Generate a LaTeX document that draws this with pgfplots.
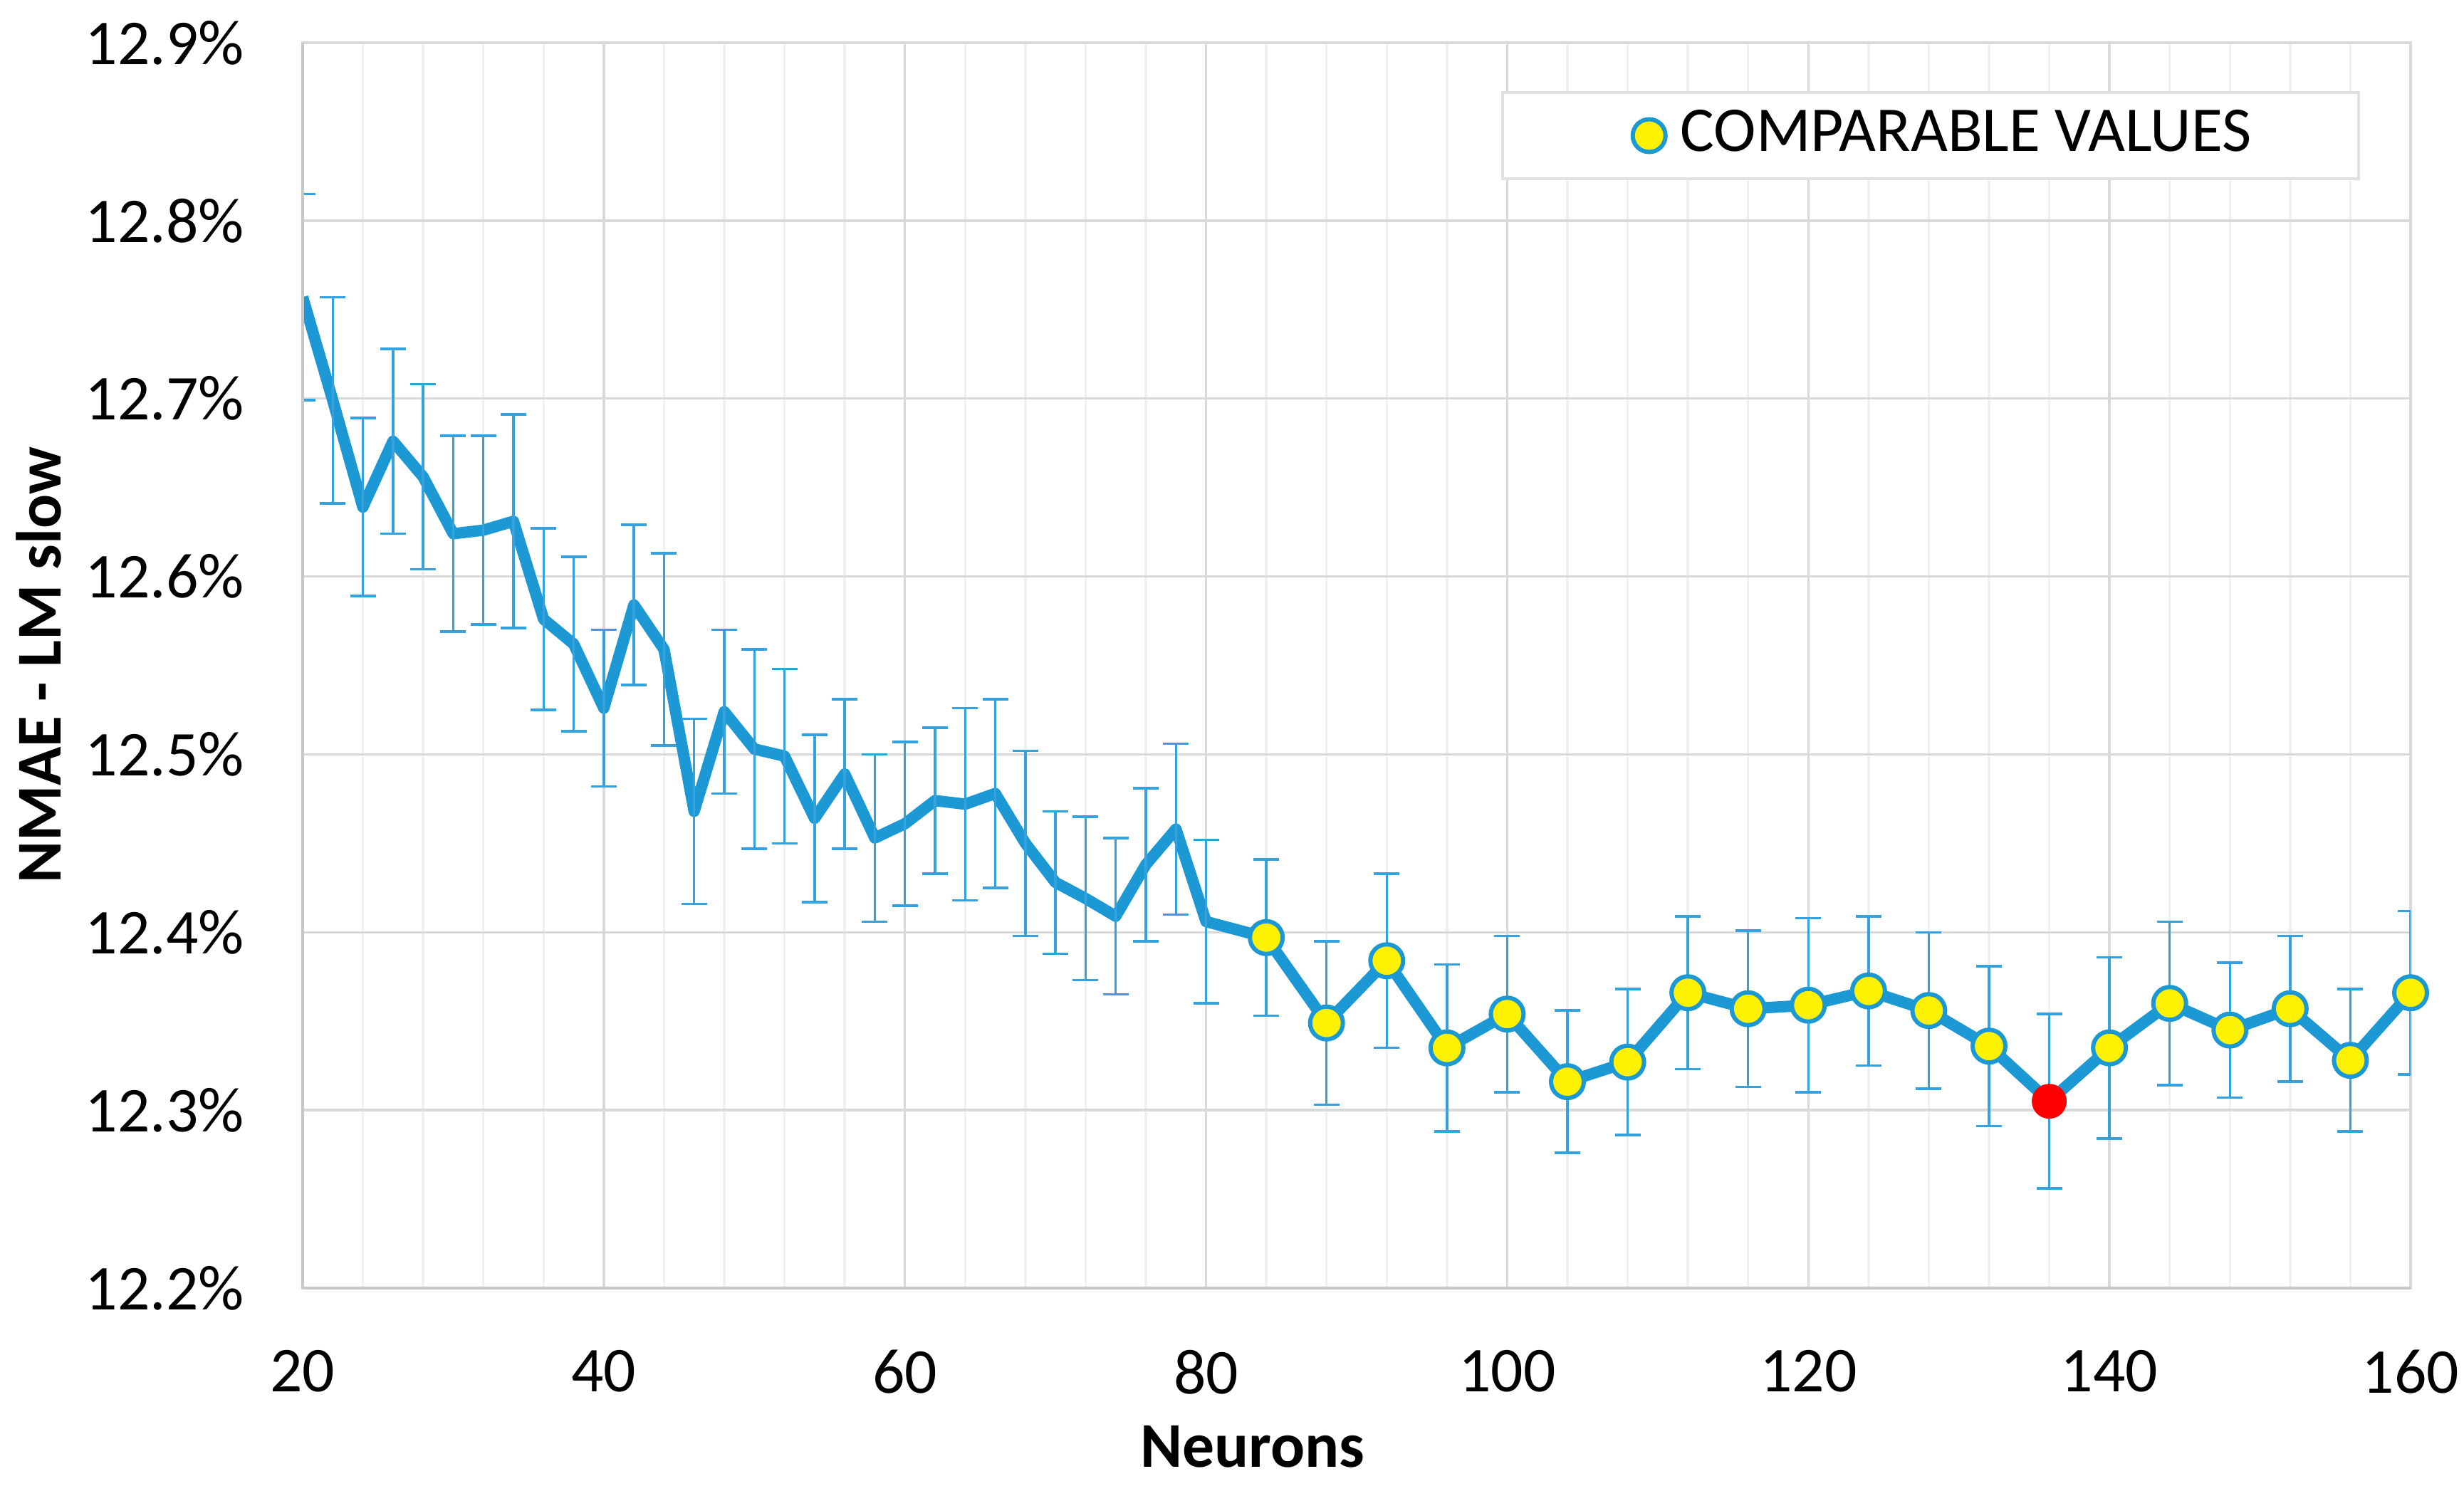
\documentclass[border=0pt]{standalone}
\usepackage{pgfplots}
\pgfplotsset{compat=1.18}
\usepackage{pgfplotstable}
\usepackage{fontspec}
\setmainfont{Carlito}
\definecolor{lineblue}{RGB}{28,152,212}
\definecolor{errblue}{RGB}{52,162,222}
\definecolor{gridmaj}{RGB}{217,217,217}
\definecolor{gridmin}{RGB}{240,240,240}
\newcommand\chartfont{\fontsize{9}{10.8}\selectfont}
\pgfplotsset{
  dotlegend/.style={legend image code/.code={\path (0bp,0bp) -- (0bp,0bp); \draw[##1] plot coordinates {(7.3bp,0bp)};}}
}
\pgfplotstableread{
x y e
20 12.757 0.058
22 12.699 0.058
24 12.639 0.050
26 12.676 0.052
28 12.656 0.052
30 12.624 0.055
32 12.626 0.053
34 12.631 0.060
36 12.576 0.051
38 12.562 0.049
40 12.526 0.044
42 12.584 0.045
44 12.559 0.054
46 12.468 0.052
48 12.524 0.046
50 12.503 0.056
52 12.499 0.049
54 12.464 0.047
56 12.489 0.042
58 12.453 0.047
60 12.461 0.046
62 12.474 0.041
64 12.472 0.054
66 12.478 0.053
68 12.450 0.052
70 12.428 0.040
72 12.419 0.046
74 12.409 0.044
76 12.438 0.043
78 12.458 0.048
80 12.406 0.046
84 12.397 0.044
88 12.349 0.046
92 12.384 0.049
96 12.335 0.047
100 12.354 0.044
104 12.316 0.040
108 12.327 0.041
112 12.366 0.043
116 12.357 0.044
120 12.359 0.049
124 12.367 0.042
128 12.356 0.044
132 12.336 0.045
136 12.305 0.049
140 12.335 0.051
144 12.360 0.046
148 12.345 0.038
152 12.357 0.041
156 12.328 0.040
160 12.366 0.046
}\maindata
\pgfplotstableread{
x y
84 12.397
88 12.349
92 12.384
96 12.335
100 12.354
104 12.316
108 12.327
112 12.366
116 12.357
120 12.359
124 12.367
128 12.356
132 12.336
140 12.335
144 12.360
148 12.345
152 12.357
156 12.328
160 12.366
}\compdata
\begin{document}
\begin{tikzpicture}
\begin{axis}[
  name=ax,
  scale only axis,
  width=296bp, height=174.9bp,
  xmin=20, xmax=160, ymin=12.2, ymax=12.9,
  xtick={20,40,60,80,100,120,140,160},
  minor xtick={24,28,32,36,44,48,52,56,64,68,72,76,84,88,92,96,104,108,112,116,124,128,132,136,144,148,152,156},
  ytick={12.2,12.3,12.4,12.5,12.6,12.7,12.8,12.9},
  grid=both,
  major grid style={draw=gridmaj, line width=0.35bp},
  minor grid style={draw=gridmin, line width=0.35bp},
  major tick length=0pt, minor tick length=0pt,
  axis line style={draw=gridmaj, line width=0.35bp},
  /pgf/number format/assume math mode=true,
  yticklabel={\pgfmathprintnumber[fixed,fixed zerofill,precision=1,assume math mode=true]{\tick}\%},
  xticklabel={\pgfmathprintnumber[assume math mode=true]{\tick}},
  tick label style={font=\chartfont, text=black},
  yticklabel style={inner sep=0pt, anchor=east, xshift=-8bp},
  xticklabel style={inner sep=0pt, anchor=north, yshift=-8.5bp},
  every axis x label/.style={at={(axis description cs:0.5,0)}, anchor=center, xshift=-14.6bp, yshift=-22.3bp, inner sep=0pt},
  every axis y label/.style={at={(axis description cs:0,0.5)}, anchor=center, xshift=-37.1bp, rotate=90, inner sep=0pt},
  xlabel={\chartfont\bfseries Neurons},
  ylabel={\chartfont\bfseries NMAE - LM slow},
  legend style={at={(0.5685,0.9611)}, anchor=north west, draw=black!12, fill=white,
    inner xsep=13.1bp, inner ysep=0.4bp, font=\chartfont, text=black,
    /tikz/every odd column/.append style={column sep=0.1bp}},
  legend cell align=left,
]
\addplot[forget plot, color=lineblue, line width=1.6bp, line join=round, mark=none,
  error bars/.cd, y dir=both, y explicit,
  error bar style={draw=errblue, line width=0.35bp},
  error mark options={draw=errblue, line width=0.35bp, mark size=1.8bp, rotate=90}]
  table[x=x, y=y, y error=e] {\maindata};
\addplot[only marks, mark=*, mark size=2.3bp, mark options={fill=yellow, draw=lineblue, line width=0.6bp}, dotlegend]
  table[x=x, y=y] {\compdata};
\addlegendentry{COMPARABLE VALUES}
\addplot[forget plot, only marks, mark=*, mark size=2.3bp, mark options={fill=red, draw=red, line width=0.3bp}]
  coordinates {(136,12.305)};
\end{axis}
\draw[black!22, line width=0.5bp] (ax.south west) -- (ax.north west);
\draw[black!22, line width=0.5bp] (ax.south west) -- (ax.south east);
\path ([shift={(-42.5bp,-28.5bp)}]ax.south west) rectangle ([shift={(7.5bp,6bp)}]ax.north east);
\end{tikzpicture}
\end{document}
